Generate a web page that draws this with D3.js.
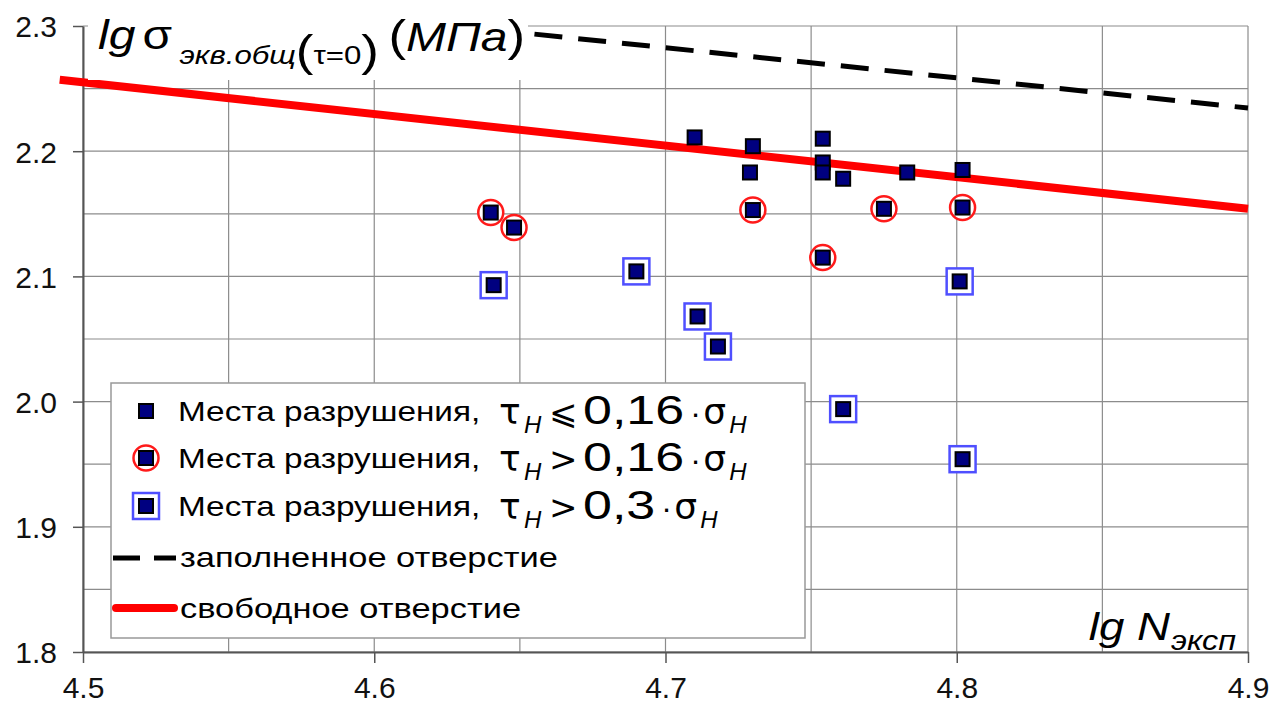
<!DOCTYPE html>
<html>
<head>
<meta charset="utf-8">
<script src="https://cdn.jsdelivr.net/npm/d3@7"></script>
<style>
  body { margin: 0; background: #fff; }
  svg { display: block; font-family: "Liberation Sans", Arial, sans-serif; }
</style>
</head>
<body>
<svg></svg>
<script>
// data
let plainX = [4.710, 4.730, 4.729, 4.754, 4.754, 4.754, 4.761, 4.783, 4.802];
let plainY = [2.211, 2.204, 2.183, 2.210, 2.191, 2.183, 2.178, 2.183, 2.185];

let circX = [4.640, 4.648, 4.730, 4.754, 4.775, 4.802];
let circY = [2.151, 2.139, 2.153, 2.115, 2.154, 2.155];

let boxX = [4.641, 4.690, 4.711, 4.718, 4.761, 4.801, 4.802];
let boxY = [2.093, 2.104, 2.068, 2.044, 1.994, 2.096, 1.954];

let dashedX = [4.655, 4.9];
let dashedY = [2.2935, 2.2345];

let redX = [4.492, 4.9];
let redY = [2.257, 2.154];

let xTicks = [4.5, 4.6, 4.7, 4.8, 4.9];
let yTicks = [1.8, 1.9, 2.0, 2.1, 2.2, 2.3];

let legendSigns = ["⩽", ">", ">"];
let legendCoefs = ["0,16", "0,16", "0,3"];

let width = 1285;
let height = 718;
let plot = { left: 83, right: 1248, top: 26, bottom: 652 };
let stretch = 1.2; // text in the picture is drawn wide

let svg = d3.select("svg")
            .attr("width", width)
            .attr("height", height);

let scaleX = d3.scaleLinear().domain([4.5, 4.9]).range([plot.left, plot.right]);
let scaleY = d3.scaleLinear().domain([1.8, 2.3]).range([plot.bottom, plot.top]);

// grid every 0.05
let gridX = d3.range(0, 9).map(i => 4.5 + i * 0.05);
let gridY = d3.range(0, 11).map(i => 1.8 + i * 0.05);

svg.append("g")
   .selectAll("line")
   .data(gridX)
   .enter()
   .append("line")
   .attr("x1", d => scaleX(d)).attr("x2", d => scaleX(d))
   .attr("y1", plot.top).attr("y2", plot.bottom)
   .attr("stroke", "#8c8c8c").attr("stroke-width", 1.2);

svg.append("g")
   .selectAll("line")
   .data(gridY)
   .enter()
   .append("line")
   .attr("x1", plot.left).attr("x2", plot.right)
   .attr("y1", d => scaleY(d)).attr("y2", d => scaleY(d))
   .attr("stroke", "#8c8c8c").attr("stroke-width", 1.2);

// axes
let xAxis = d3.axisBottom(scaleX).tickValues(xTicks).tickFormat(d3.format(".1f"))
              .tickSizeInner(11).tickSizeOuter(0).tickPadding(14);
let yAxis = d3.axisLeft(scaleY).tickValues(yTicks).tickFormat(d3.format(".1f"))
              .tickSizeInner(10).tickSizeOuter(0).tickPadding(16);

let gx = svg.append("g")
   .attr("transform", `translate(0, ${plot.bottom})`)
   .call(xAxis);
let gy = svg.append("g")
   .attr("transform", `translate(${plot.left}, 0)`)
   .call(yAxis);

[gx, gy].forEach(g => {
    g.select(".domain").attr("stroke", "#555").attr("stroke-width", 2);
    g.selectAll(".tick line").attr("stroke", "#555").attr("stroke-width", 1.5);
    g.selectAll("text")
     .attr("fill", "#111")
     .style("font-family", "'Liberation Sans', Arial, sans-serif")
     .style("font-size", "30px");
});
gy.selectAll("text").attr("dy", "0.36em");

// lines
let line = d3.line().x(d => scaleX(d[0])).y(d => scaleY(d[1]));

svg.append("path")
   .datum(d3.zip(redX, redY))
   .attr("d", line)
   .attr("fill", "none")
   .attr("stroke", "#ff0000")
   .attr("stroke-width", 8);

svg.append("path")
   .datum(d3.zip(dashedX, dashedY))
   .attr("d", line)
   .attr("fill", "none")
   .attr("stroke", "#000")
   .attr("stroke-width", 5)
   .attr("stroke-dasharray", "28,16");

// title, with white background so grid/lines do not run through
svg.append("rect")
   .attr("x", 88).attr("y", 0).attr("width", 440).attr("height", 80)
   .attr("fill", "#fff");

let title = svg.append("text")
   .attr("transform", `translate(98, 49) scale(${stretch}, 1)`)
   .attr("fill", "#000");
title.append("tspan").attr("font-style", "italic").attr("font-size", 40).text("lg");
title.append("tspan").attr("font-size", 40).attr("dx", 6).text("σ");
title.append("tspan").attr("font-style", "italic").attr("font-size", 26).attr("dx", 6).attr("dy", 15).text("экв.общ");
title.append("tspan").attr("font-size", 44).attr("dy", 2).text("(");
title.append("tspan").attr("font-size", 26).attr("dy", -2).text("τ=0");
title.append("tspan").attr("font-size", 44).attr("dy", 2).text(")");
title.append("tspan").attr("font-size", 44).attr("dx", 8).attr("dy", -15).text("(");
title.append("tspan").attr("font-style", "italic").attr("font-size", 40).text("МПа");
title.append("tspan").attr("font-size", 44).text(")");

// x axis name
let xName = svg.append("text")
   .attr("transform", `translate(1236, 640) scale(${stretch}, 1)`)
   .attr("text-anchor", "end")
   .attr("fill", "#000");
xName.append("tspan").attr("font-style", "italic").attr("font-size", 38).text("lg N");
xName.append("tspan").attr("font-style", "italic").attr("font-size", 27).attr("dx", 1).attr("dy", 10).text("эксп");

// legend
let legend = svg.append("g");
legend.append("rect")
   .attr("x", 111).attr("y", 383).attr("width", 694).attr("height", 255)
   .attr("fill", "#fff").attr("stroke", "#999").attr("stroke-width", 1.5);

let legendRowY = [411, 458, 506];

function boxMarker(g, cx, cy) {
    g.append("rect")
     .attr("x", cx - 13).attr("y", cy - 13).attr("width", 26).attr("height", 26)
     .attr("fill", "#fff").attr("stroke", "#4f4fff").attr("stroke-width", 2.5);
}
function circleMarker(g, cx, cy) {
    g.append("circle")
     .attr("cx", cx).attr("cy", cy).attr("r", 12.5)
     .attr("fill", "#fff").attr("stroke", "#ff1a1a").attr("stroke-width", 2.5);
}
function squareMarker(g, cx, cy) {
    g.append("rect")
     .attr("x", cx - 7).attr("y", cy - 7).attr("width", 14).attr("height", 14)
     .attr("fill", "#000080").attr("stroke", "#000").attr("stroke-width", 2);
}

function wideText(g, x, y, size, str, k) {
    return g.append("text")
       .attr("transform", `translate(${x}, ${y}) scale(${k || stretch}, 1)`)
       .attr("font-size", size)
       .attr("fill", "#000")
       .text(str);
}

function plainText(g, x, y, size, str, family, style) {
    let t = g.append("text")
       .attr("x", x).attr("y", y)
       .attr("font-size", size)
       .attr("fill", "#000")
       .text(str);
    if (family) t.style("font-family", family);
    if (style) t.attr("font-style", style);
    return t;
}

legendRowY.forEach((y, i) => {
    if (i === 1) circleMarker(legend, 146, y);
    if (i === 2) boxMarker(legend, 146, y);
    squareMarker(legend, 146, y);

    wideText(legend, 178, y + 10, 28, "Места разрушения,", 1.19);
    plainText(legend, 499, y + 13, 36, "τ", "'DejaVu Sans', sans-serif");
    plainText(legend, 524, y + 22, 24, "H", null, "italic");
    plainText(legend, 549, y + 13, 34, legendSigns[i], "'DejaVu Sans', sans-serif");
    let num = wideText(legend, 583, y + 13, 40, legendCoefs[i], 1.3);
    let nx = 583 + num.node().getComputedTextLength() * 1.3;
    plainText(legend, nx + 6, y + 13, 32, "·");
    plainText(legend, nx + 19, y + 13, 36, "σ", "'DejaVu Sans', sans-serif");
    plainText(legend, nx + 45, y + 22, 24, "H", null, "italic");
});

legend.append("line")
   .attr("x1", 113).attr("x2", 176).attr("y1", 558).attr("y2", 558)
   .attr("stroke", "#000").attr("stroke-width", 5).attr("stroke-dasharray", "27,14");
wideText(legend, 180, 567, 28, "заполненное отверстие", 1.23);

legend.append("line")
   .attr("x1", 116).attr("x2", 174).attr("y1", 608).attr("y2", 608)
   .attr("stroke", "#ff0000").attr("stroke-width", 8).attr("stroke-linecap", "round");
wideText(legend, 180, 618, 28, "свободное отверстие", 1.23);

// data markers
let marks = svg.append("g");
d3.zip(boxX, boxY).forEach(d => boxMarker(marks, scaleX(d[0]), scaleY(d[1])));
d3.zip(circX, circY).forEach(d => circleMarker(marks, scaleX(d[0]), scaleY(d[1])));
d3.zip(plainX, plainY).concat(d3.zip(circX, circY), d3.zip(boxX, boxY))
  .forEach(d => squareMarker(marks, scaleX(d[0]), scaleY(d[1])));
</script>
</body>
</html>
